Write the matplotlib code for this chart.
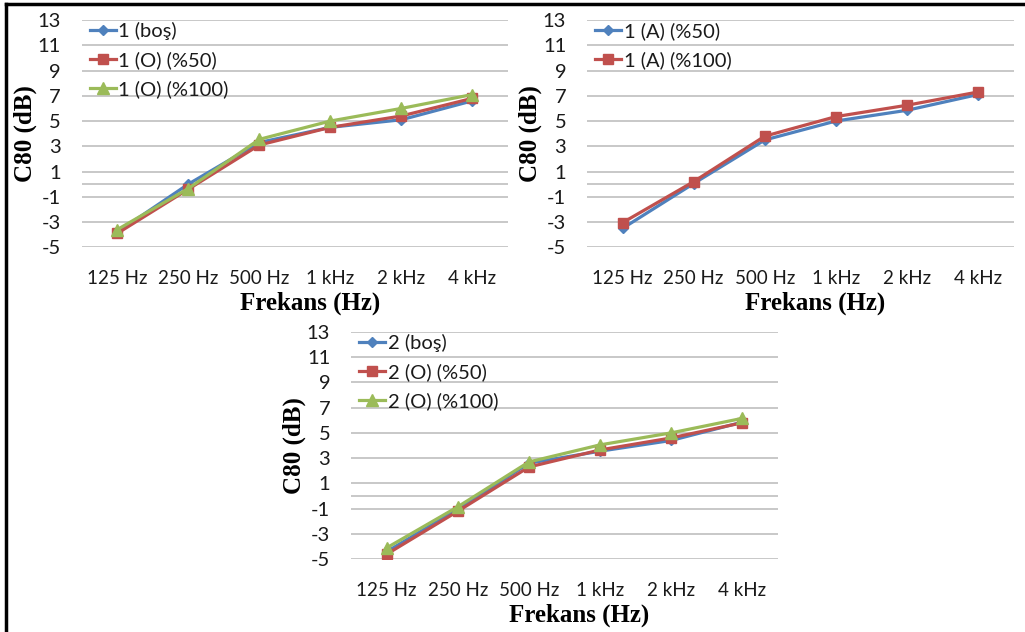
import matplotlib
matplotlib.use("Agg")
import matplotlib.pyplot as plt
from matplotlib.lines import Line2D

plt.rcParams["axes.unicode_minus"] = False

# Octave-band centre frequencies
bands = ["125 Hz", "250 Hz", "500 Hz", "1 kHz", "2 kHz", "4 kHz"]
y_ticks = [-5, -3, -1, 1, 3, 5, 7, 9, 11, 13]

# Hall 1: empty vs. occupied (O)
h1_labels = ["1 (boş)", "1 (O) (%50)", "1 (O) (%100)"]
h1_bos = [-3.8, 0.0, 3.3, 4.5, 5.1, 6.6]
h1_o50 = [-3.9, -0.4, 3.1, 4.5, 5.4, 6.8]
h1_o100 = [-3.6, -0.35, 3.55, 5.0, 6.0, 7.1]

# Hall 1: occupied (A)
h1a_labels = ["1 (A) (%50)", "1 (A) (%100)"]
h1_a50 = [-3.5, 0.05, 3.5, 5.0, 5.85, 7.1]
h1_a100 = [-3.05, 0.2, 3.8, 5.35, 6.25, 7.3]

# Hall 2: empty vs. occupied (O)
h2_labels = ["2 (boş)", "2 (O) (%50)", "2 (O) (%100)"]
h2_bos = [-4.4, -1.05, 2.6, 3.55, 4.4, 5.85]
h2_o50 = [-4.6, -1.2, 2.3, 3.65, 4.6, 5.8]
h2_o100 = [-4.1, -0.85, 2.7, 4.05, 5.0, 6.15]

BLUE = "#4F81BD"
RED = "#C0504D"
GREEN = "#9BBB59"
GRID = "#BFBFBF"

TICK_FONT = "Lato"
LABEL_FONT = "Liberation Serif"
YTICK_SIZE = 14.5
XTICK_SIZE = 13.5

styles = [
    dict(color=BLUE, marker="D", markersize=5),
    dict(color=RED, marker="s", markersize=7),
    dict(color=GREEN, marker="^", markersize=8),
]

W, H = 1025, 632
fig = plt.figure(figsize=(W / 100, H / 100), dpi=100)


def px_axes(x0, x1, ytop, ybot):
    return fig.add_axes([x0 / W, 1 - ybot / H, (x1 - x0) / W, (ybot - ytop) / H])


def panel(ax, series, labels, style_idx):
    x = list(range(len(bands)))
    for vals, lab, si in zip(series, labels, style_idx):
        st = styles[si]
        ax.plot(x, vals, color=st["color"], lw=2.3, marker=st["marker"],
                markersize=st["markersize"], markeredgecolor=st["color"],
                label=lab, zorder=3)
    ax.set_xlim(-0.5, len(bands) - 0.5)
    ax.set_ylim(-5, 13)
    ax.set_yticks(y_ticks)
    ax.set_xticks(x)
    ax.set_xticklabels(bands)
    for v in y_ticks:
        ax.axhline(v, color=GRID, lw=1.2, zorder=1)
    ax.axhline(0, color=GRID, lw=1.2, zorder=1)
    for s in ax.spines.values():
        s.set_visible(False)
    ax.tick_params(length=0, colors="#1a1a1a")
    ax.tick_params(axis="y", pad=15, labelsize=YTICK_SIZE)
    ax.tick_params(axis="x", pad=16, labelsize=XTICK_SIZE)
    for t in ax.get_xticklabels() + ax.get_yticklabels():
        t.set_fontfamily(TICK_FONT)
    ax.set_xlabel("Frekans (Hz)", fontfamily=LABEL_FONT, fontweight="bold",
                  fontsize=18)
    ax.set_ylabel("C80 (dB)", fontfamily=LABEL_FONT, fontweight="bold",
                  fontsize=18)
    ax.xaxis.set_label_coords(0.535, -0.195)
    ax.yaxis.set_label_coords(-0.105, 0.5)
    leg = ax.legend(loc="upper left", bbox_to_anchor=(0.0, 1.025),
                    frameon=False, handlelength=1.3, handletextpad=0.12,
                    labelspacing=0.55, borderaxespad=0,
                    prop=dict(family=TICK_FONT, size=YTICK_SIZE))
    for t in leg.get_texts():
        t.set_color("#1a1a1a")


ax1 = px_axes(81.7, 508, 20, 247.3)
panel(ax1, [h1_bos, h1_o50, h1_o100], h1_labels, [0, 1, 2])

ax2 = px_axes(587, 1013.7, 20, 247.3)
panel(ax2, [h1_a50, h1_a100], h1a_labels, [0, 1])

ax3 = px_axes(351, 778, 331.7, 559.3)
panel(ax3, [h2_bos, h2_o50, h2_o100], h2_labels, [0, 1, 2])

# Frame along the top and left edges of the figure
fig.add_artist(Line2D([6 / W, 6 / W], [0, 1 - 4 / H], color="black", lw=2.5))
fig.add_artist(Line2D([6 / W, 1], [1 - 4 / H, 1 - 4 / H], color="black", lw=2.5))

fig.savefig("out.png", dpi=100)
